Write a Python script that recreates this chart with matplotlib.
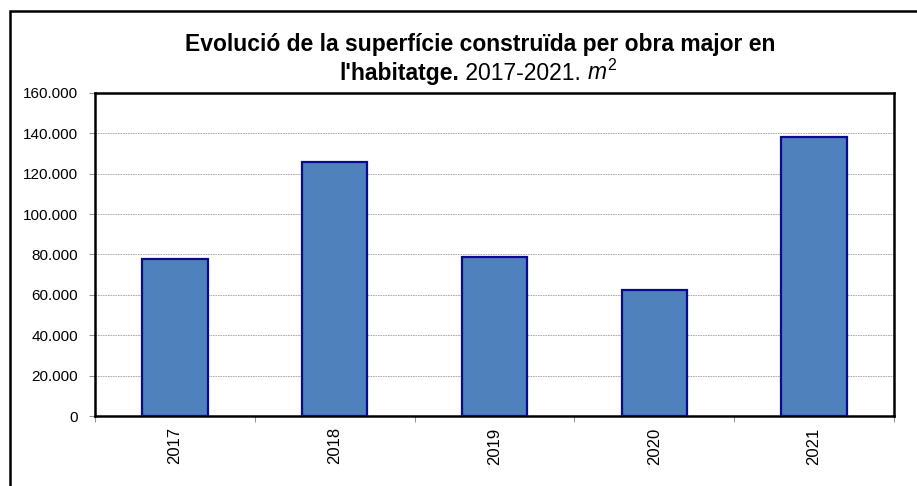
import matplotlib
matplotlib.use("Agg")
import matplotlib.pyplot as plt
from matplotlib.ticker import FuncFormatter, MultipleLocator
from matplotlib.patches import Rectangle

years = ["2017", "2018", "2019", "2020", "2021"]
values = [78000, 125700, 79000, 62500, 138200]
y_max = 160000

W, H = 917, 486
fig = plt.figure(figsize=(W / 100, H / 100), dpi=100)
plt.rcParams['font.family'] = ['Liberation Sans', 'DejaVu Sans']
plt.rcParams['mathtext.fontset'] = 'custom'
plt.rcParams['mathtext.it'] = 'Liberation Sans:italic'
plt.rcParams['mathtext.rm'] = 'Liberation Sans'

# axes placement in pixels
left, right, top, bottom = 95, 894, 93, 416
ax = fig.add_axes([left / W, 1 - bottom / H, (right - left) / W, (bottom - top) / H])

x = list(range(len(years)))
ax.bar(x, values, width=0.41, color="#4F81BD", edgecolor="#0A0A8C", linewidth=1.6, zorder=3)
ax.set_xlim(-0.5, len(years) - 0.5)
ax.set_ylim(0, y_max)
ax.yaxis.set_major_locator(MultipleLocator(20000))
ax.yaxis.set_major_formatter(FuncFormatter(lambda v, p: f"{int(v):,}".replace(",", ".")))
ax.grid(axis="y", color="#A0A0A0", linestyle=(0, (2, 1)), linewidth=0.6, zorder=0)
ax.tick_params(axis="y", labelsize=11, length=4, width=0.6, color="#808080", pad=8)

# category labels at centres, tick marks at boundaries
ax.set_xticks([i - 0.5 for i in range(len(years) + 1)])
ax.set_xticklabels([])
ax.tick_params(axis="x", length=4, width=0.6, color="#808080")
for i, yr in enumerate(years):
    ax.text(i, -0.035, yr, transform=ax.get_xaxis_transform(), rotation=90,
            ha="center", va="top", fontsize=12)
for s in ax.spines.values():
    s.set_linewidth(1.8)
    s.set_color("black")

# outer frame (right and bottom edges fall outside the image)
frame = Rectangle((10 / W, -0.05), 1.05, 1.05 - 11 / H, transform=fig.transFigure,
                  fill=False, edgecolor="black", linewidth=1.8, clip_on=False)
fig.patches.append(frame)

# title
fig.text(480 / W, 1 - 45 / H, "Evolució de la superfície construïda per obra major en",
         ha="center", va="center", fontsize=16.5, fontweight="bold")

pieces = [("l'habitatge.", dict(fontweight="bold")),
          (" 2017-2021. ", dict(fontweight="normal")),
          (r"$\mathit{m}^{2}$", dict(fontweight="normal"))]
texts = []
for s, kw in pieces:
    t = fig.text(0, 1 - 80 / H, s, ha="left", va="baseline", fontsize=16.5, **kw)
    texts.append(t)
fig.canvas.draw()
r = fig.canvas.get_renderer()
widths = [t.get_window_extent(r).width for t in texts]
total = sum(widths)
xpos = 478 - total / 2
for t, w in zip(texts, widths):
    t.set_x(xpos / W)
    xpos += w

fig.savefig("out.png", dpi=100)
